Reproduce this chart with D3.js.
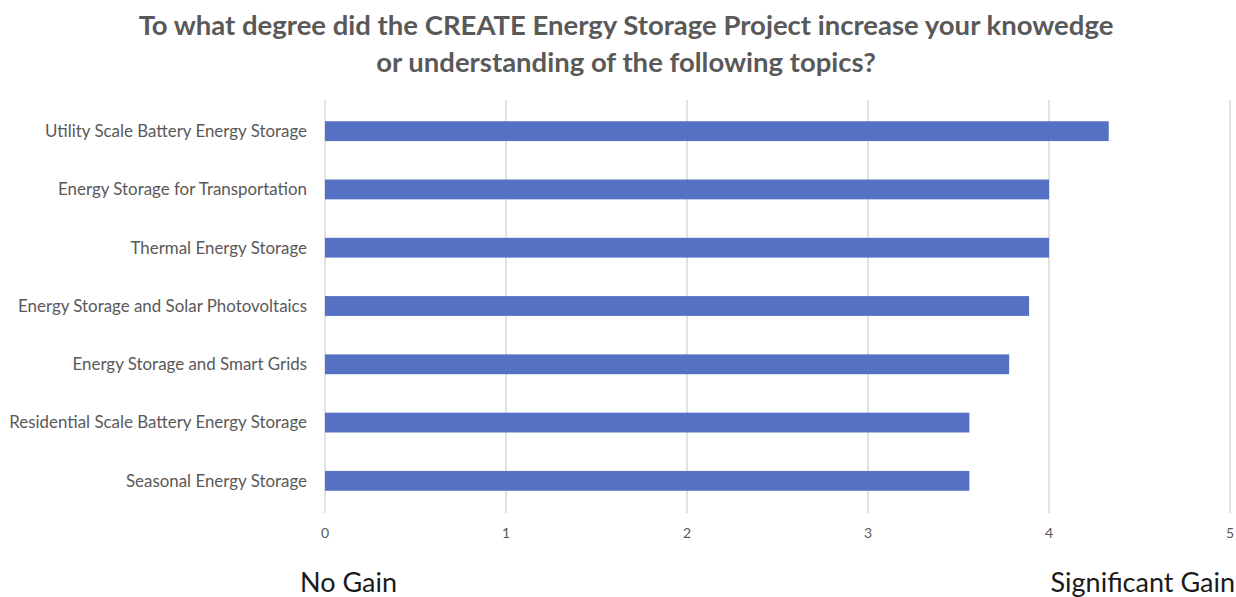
<!DOCTYPE html>
<html lang="en">
<head>
  <meta charset="UTF-8">
  <title>CREATE Energy Storage Project</title>
  <script src="https://d3js.org/d3.v7.min.js"></script>
  <style>
    body { margin: 0; background: #fff; }
  </style>
</head>
<body>

<div id="chart"></div>

<script>
// Topics, top to bottom, and their average gain scores
const topics = [
  'Utility Scale Battery Energy Storage',
  'Energy Storage for Transportation',
  'Thermal Energy Storage',
  'Energy Storage and Solar Photovoltaics',
  'Energy Storage and Smart Grids',
  'Residential Scale Battery Energy Storage',
  'Seasonal Energy Storage'
];
const scores = [4.33, 4.0, 4.0, 3.89, 3.78, 3.56, 3.56];
const ticks = [0, 1, 2, 3, 4, 5];
const titleLines = [
  'To what degree did the CREATE Energy Storage Project increase your knowedge',
  'or understanding of the following topics?'
];
const endLabels = ['No Gain', 'Significant Gain'];

const width = 1236;
const height = 597;
const margin = { top: 102, right: 6, bottom: 87, left: 325 };

const svg = d3.select("#chart")
  .append("svg")
  .attr("width", width)
  .attr("height", height);

const x = d3.scaleLinear()
  .domain([0, 5])
  .range([margin.left, margin.left + 905]);

const y = d3.scaleBand()
  .domain(topics)
  .range([margin.top, height - margin.bottom])
  .paddingInner(0.66)
  .paddingOuter(0.33);

// vertical gridlines
svg.append("g")
  .selectAll("line")
  .data(ticks)
  .enter()
  .append("line")
  .attr("x1", d => x(d))
  .attr("x2", d => x(d))
  .attr("y1", margin.top - 2)
  .attr("y2", height - margin.bottom + 3)
  .attr("stroke", "#d9d9d9")
  .attr("stroke-width", 1.5);

// bars
svg.append("g")
  .selectAll("rect")
  .data(topics)
  .enter()
  .append("rect")
  .attr("x", x(0))
  .attr("y", d => y(d))
  .attr("width", (d, i) => x(scores[i]) - x(0))
  .attr("height", y.bandwidth())
  .attr("fill", "#5571c4");

// category labels
svg.append("g")
  .selectAll("text")
  .data(topics)
  .enter()
  .append("text")
  .attr("x", 307)
  .attr("y", d => y(d) + y.bandwidth() / 2)
  .attr("dy", "0.35em")
  .attr("text-anchor", "end")
  .attr("font-family", "Lato, sans-serif")
  .attr("font-size", 16.9)
  .attr("fill", "#595959")
  .text(d => d);

// x tick labels
svg.append("g")
  .selectAll("text")
  .data(ticks)
  .enter()
  .append("text")
  .attr("x", d => x(d))
  .attr("y", 538)
  .attr("text-anchor", "middle")
  .attr("font-family", "Lato, sans-serif")
  .attr("font-size", 14)
  .attr("fill", "#595959")
  .text(d => d);

// title
svg.append("g")
  .selectAll("text")
  .data(titleLines)
  .enter()
  .append("text")
  .attr("x", 626)
  .attr("y", (d, i) => 35 + i * 37)
  .attr("text-anchor", "middle")
  .attr("font-family", "Lato, sans-serif")
  .attr("font-weight", "bold")
  .attr("font-size", 27.5)
  .attr("fill", "#595959")
  .text(d => d);

// scale end labels
svg.append("text")
  .attr("x", 300)
  .attr("y", 592)
  .attr("font-family", "Lato, sans-serif")
  .attr("font-size", 27)
  .attr("fill", "#1a1a1a")
  .text(endLabels[0]);

svg.append("text")
  .attr("x", 1235)
  .attr("y", 592)
  .attr("text-anchor", "end")
  .attr("font-family", "Lato, sans-serif")
  .attr("font-size", 27)
  .attr("fill", "#1a1a1a")
  .text(endLabels[1]);
</script>

</body>
</html>
